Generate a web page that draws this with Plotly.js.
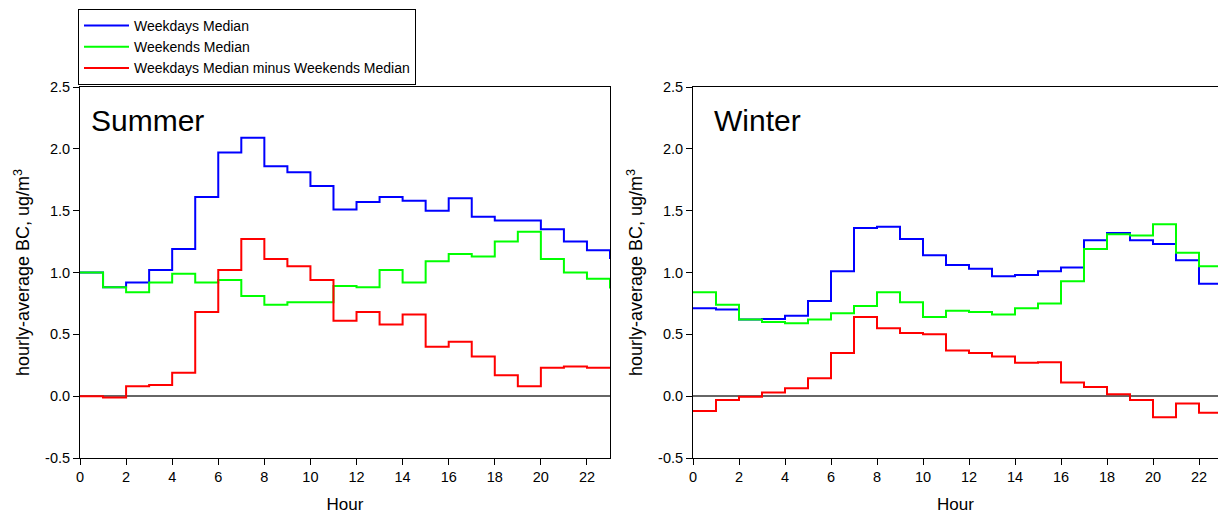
<!DOCTYPE html>
<html>
<head>
<meta charset="utf-8">
<script src="https://cdn.plot.ly/plotly-3.0.1.min.js"></script>
<style>html,body{margin:0;padding:0;background:#fff;}#chart{width:1218px;height:514px;}</style>
</head>
<body>
<div id="chart"></div>
<script>
const hours = [0,1,2,3,4,5,6,7,8,9,10,11,12,13,14,15,16,17,18,19,20,21,22,23];
const xTicks = [0,2,4,6,8,10,12,14,16,18,20,22];
const yTicks = [-0.5,0,0.5,1,1.5,2,2.5];
const yTickLabels = ["-0.5","0.0","0.5","1.0","1.5","2.0","2.5"];
const seriesNames = ["Weekdays Median","Weekends Median","Weekdays Median minus Weekends Median"];

const summerWeekdays = [1.00,0.88,0.92,1.02,1.19,1.61,1.97,2.09,1.86,1.81,1.70,1.51,1.57,1.61,1.58,1.50,1.60,1.45,1.42,1.42,1.35,1.25,1.18,1.11];
const summerWeekends = [1.00,0.88,0.84,0.92,0.99,0.92,0.94,0.81,0.74,0.76,0.76,0.89,0.88,1.02,0.92,1.09,1.15,1.13,1.25,1.33,1.11,1.00,0.95,0.87];
const summerDiff     = [0.00,-0.01,0.08,0.09,0.19,0.68,1.02,1.27,1.11,1.05,0.94,0.61,0.68,0.58,0.66,0.40,0.44,0.32,0.17,0.08,0.23,0.24,0.23,0.23];

const winterWeekdays = [0.71,0.70,0.62,0.625,0.65,0.77,1.01,1.36,1.37,1.27,1.14,1.06,1.03,0.97,0.98,1.01,1.04,1.26,1.32,1.26,1.23,1.10,0.91,0.91];
const winterWeekends = [0.84,0.74,0.62,0.60,0.59,0.62,0.67,0.73,0.84,0.76,0.64,0.69,0.68,0.66,0.71,0.75,0.93,1.19,1.31,1.30,1.39,1.16,1.05,1.05];
const winterDiff     = [-0.12,-0.03,-0.005,0.03,0.065,0.145,0.35,0.64,0.55,0.51,0.50,0.37,0.35,0.32,0.27,0.275,0.11,0.075,0.015,-0.03,-0.17,-0.06,-0.135,-0.135];

const colors = ["#0000ff","#00ff00","#ff0000"];
const FONT = "Liberation Sans, Arial, sans-serif";

function mk(y, i, xa, ya, show) {
  return {x: hours, y: y, type: "scatter", mode: "lines", name: seriesNames[i],
    line: {shape: "hv", color: colors[i], width: 2}, xaxis: xa, yaxis: ya,
    showlegend: show, hoverinfo: "x+y"};
}

const data = [
  mk(summerWeekdays,0,"x","y",true),
  mk(summerWeekends,1,"x","y",true),
  mk(summerDiff,2,"x","y",true),
  mk(winterWeekdays,0,"x2","y2",false),
  mk(winterWeekends,1,"x2","y2",false),
  mk(winterDiff,2,"x2","y2",false)
];

const yTop = 1 - 87/514, yBot = 1 - 458/514;
function xax(dom, rng, anchor) {
  return {domain: dom, range: rng, anchor: anchor, tickvals: xTicks, ticktext: xTicks.map(String),
    ticks: "outside", ticklen: 6, tickcolor: "#000", showline: true, linecolor: "#000", linewidth: 1,
    mirror: true, showgrid: false, zeroline: false, tickfont: {family: FONT, size: 14.5, color: "#000"},
    title: {text: "Hour", font: {family: FONT, size: 17, color: "#000"}, standoff: 18}};
}
function yax(anchor) {
  return {domain: [yBot, yTop], range: [-0.5, 2.5], anchor: anchor, tickvals: yTicks, ticktext: yTickLabels,
    ticks: "outside", ticklen: 6, tickcolor: "#000", showline: true, linecolor: "#000", linewidth: 1,
    mirror: true, showgrid: false, zeroline: true, zerolinecolor: "#666", zerolinewidth: 1.5,
    tickfont: {family: FONT, size: 14.5, color: "#000"},
    title: {text: "hourly-average BC, ug/m<sup>3</sup>", font: {family: FONT, size: 18, color: "#000"}, standoff: 10}};
}

const layout = {
  width: 1218, height: 514,
  margin: {l: 0, r: 0, t: 0, b: 0},
  paper_bgcolor: "#fff", plot_bgcolor: "#fff",
  font: {family: FONT, color: "#000"},
  xaxis: xax([80/1218, 610/1218], [0, 23], "y"),
  yaxis: yax("x"),
  xaxis2: xax([693/1218, 1], [0, (1218-693)/23.0], "y2"),
  yaxis2: yax("x2"),
  yaxis3: {domain: [yBot, yTop], range: [-0.5, 2.5], overlaying: "y", side: "right", anchor: "x",
    tickvals: yTicks, ticks: "inside", ticklen: 5, tickcolor: "#000", showticklabels: false, showgrid: false, zeroline: false, showline: false},
  yaxis4: {domain: [yBot, yTop], range: [-0.5, 2.5], overlaying: "y2", side: "right", anchor: "x2",
    tickvals: yTicks, ticks: "inside", ticklen: 5, tickcolor: "#000", showticklabels: false, showgrid: false, zeroline: false, showline: false},
  showlegend: true,
  legend: {x: 78/1218, y: 1 - 9/514, xanchor: "left", yanchor: "top", bgcolor: "rgba(255,255,255,0)",
    bordercolor: "#000", borderwidth: 1, font: {family: FONT, size: 14, color: "#000"}, tracegroupgap: 0,
    itemwidth: 45},
  annotations: [
    {text: "Summer", xref: "paper", yref: "paper", x: 89/1218, y: 1 - 120/514, xanchor: "left", yanchor: "middle",
     showarrow: false, font: {family: FONT, size: 30, color: "#000"}},
    {text: "Winter", xref: "paper", yref: "paper", x: 712/1218, y: 1 - 120/514, xanchor: "left", yanchor: "middle",
     showarrow: false, font: {family: FONT, size: 30, color: "#000"}}
  ]
};

Plotly.newPlot("chart", data, layout, {displayModeBar: false, staticPlot: true});
</script>
</body>
</html>
